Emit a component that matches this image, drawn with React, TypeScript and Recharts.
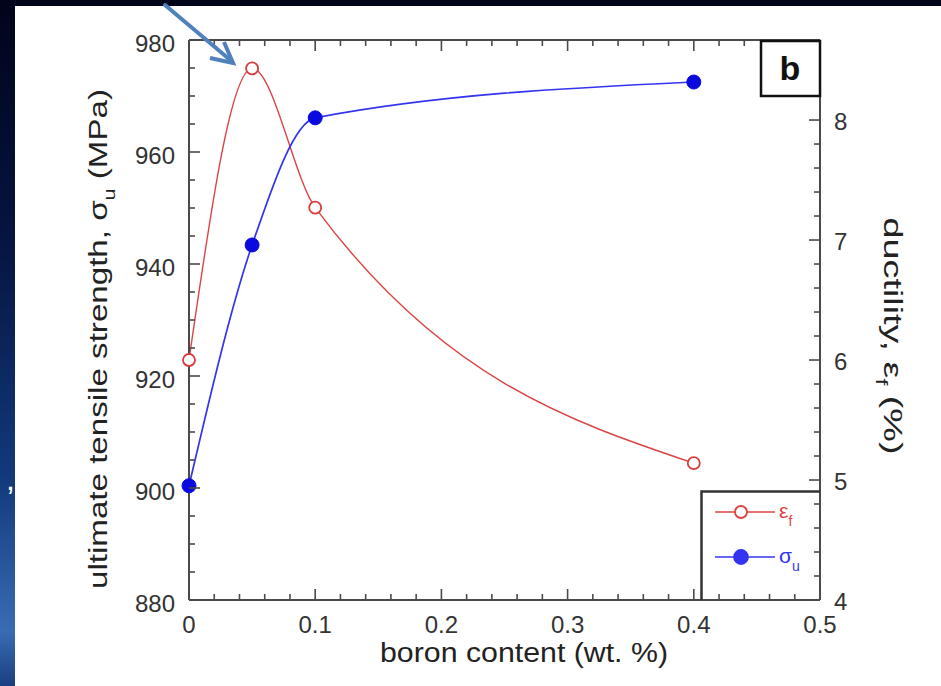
import React from "react";
import { LineChart, Line, XAxis, YAxis, Legend } from "recharts";

// boron content (wt. %)
const boron = [0, 0.05, 0.1, 0.4];
// ultimate tensile strength sigma_u (MPa), left axis
const strength = [900.4, 943.4, 966.1, 972.5];
// ductility epsilon_f (%), right axis
const ductility = [6.0, 8.43, 7.27, 5.14];

const xTicks = [0, 0.02, 0.04, 0.06, 0.08, 0.1, 0.12, 0.14, 0.16, 0.18, 0.2, 0.22, 0.24, 0.26, 0.28, 0.3, 0.32, 0.34, 0.36, 0.38, 0.4, 0.42, 0.44, 0.46, 0.48, 0.5];
const xLabels = ["0", "0.1", "0.2", "0.3", "0.4", "0.5"];
const leftTicks = [880, 885, 890, 895, 900, 905, 910, 915, 920, 925, 930, 935, 940, 945, 950, 955, 960, 965, 970, 975, 980];
const leftLabels = ["880", "900", "920", "940", "960", "980"];
const rightTicks = [4, 4.2, 4.4, 4.6, 4.8, 5, 5.2, 5.4, 5.6, 5.8, 6, 6.2, 6.4, 6.6, 6.8, 7, 7.2, 7.4, 7.6, 7.8, 8, 8.2, 8.4, 8.6];
const rightLabels = ["4", "5", "6", "7", "8"];

const data = boron.map((b, i) => ({ boron: b, strength: strength[i], ductility: ductility[i] }));

const font = "'Liberation Sans', Arial, sans-serif";
const axisColor = "#4a4a4a";
const labelColor = "#333";

const fmt = (v: number) => String(Math.round(v * 1000) / 1000);

const BottomTick = (p: any) => {
  const { x, y, payload } = p;
  const label = fmt(payload.value);
  const major = xLabels.includes(label);
  return (
    <g>
      <line x1={x} y1={y} x2={x} y2={y - (major ? 11 : 6)} stroke={axisColor} strokeWidth={1.6} />
      {major && (
        <text x={x} y={y + 33} textAnchor="middle" fontSize={24} fontFamily={font} fill={labelColor}>
          {label}
        </text>
      )}
    </g>
  );
};

const TopTick = (p: any) => {
  const { x, y, payload } = p;
  const major = xLabels.includes(fmt(payload.value));
  return <line x1={x} y1={y} x2={x} y2={y + (major ? 11 : 6)} stroke={axisColor} strokeWidth={1.6} />;
};

const LeftTick = (p: any) => {
  const { x, y, payload } = p;
  const label = fmt(payload.value);
  const major = leftLabels.includes(label);
  return (
    <g>
      <line x1={x} y1={y} x2={x + (major ? 11 : 6)} y2={y} stroke={axisColor} strokeWidth={1.6} />
      {major && (
        <text x={x - 14} y={y + 12} textAnchor="end" fontSize={24} fontFamily={font} fill={labelColor}>
          {label}
        </text>
      )}
    </g>
  );
};

const RightTick = (p: any) => {
  const { x, y, payload } = p;
  const label = fmt(payload.value);
  const major = rightLabels.includes(label);
  return (
    <g>
      <line x1={x} y1={y} x2={x - (major ? 11 : 6)} y2={y} stroke={axisColor} strokeWidth={1.6} />
      {major && (
        <text x={x + 14} y={y + 10} textAnchor="start" fontSize={24} fontFamily={font} fill={labelColor}>
          {label}
        </text>
      )}
    </g>
  );
};

const LegendBox = (props: any) => {
  const items = props.payload || [];
  return (
    <svg width={120} height={110} style={{ display: "block" }}>
      <polyline points="1.5,110 1.5,1.5 120,1.5" fill="none" stroke="#333" strokeWidth={2.5} />
      {items.map((it: any, i: number) => {
        const cy = 22 + i * 45;
        const filled = it.dataKey === "strength";
        return (
          <g key={it.value}>
            <line x1={15} x2={75} y1={cy} y2={cy} stroke={it.color} strokeWidth={1.5} />
            <circle cx={41} cy={cy} r={filled ? 7 : 6} fill={filled ? it.color : "#fff"} stroke={it.color} strokeWidth={1.8} />
            <text x={79} y={cy + 6} fontSize={21} fontFamily={font} fill={it.color}>
              {filled ? "σ" : "ε"}
              <tspan fontSize={14} dy={8}>{filled ? "u" : "f"}</tspan>
            </text>
          </g>
        );
      })}
    </svg>
  );
};

export default function App() {
  return (
    <div
      style={{
        position: "absolute",
        left: 0,
        top: 0,
        width: 941,
        height: 686,
        overflow: "hidden",
        background: "linear-gradient(to bottom, #01041a 0%, #061440 35%, #123a7c 70%, #3a6cb4 92%, #1a3f80 100%)",
      }}
    >
      <div style={{ position: "absolute", left: 15, top: 6, width: 926, height: 680, background: "#fff" }} />
      <LineChart
        width={941}
        height={686}
        data={data}
        margin={{ top: 0, right: 0, bottom: 0, left: 0 }}
        style={{ position: "absolute", left: 0, top: 0 }}
      >
        <XAxis
          xAxisId="bottom"
          dataKey="boron"
          type="number"
          domain={[0, 0.5]}
          ticks={xTicks}
          interval={0}
          height={86}
          axisLine={{ stroke: axisColor, strokeWidth: 2 }}
          tickLine={false}
          tickSize={0}
          tickMargin={0}
          tick={(p: any) => <BottomTick {...p} />}
        />
        <XAxis
          xAxisId="top"
          orientation="top"
          dataKey="boron"
          type="number"
          domain={[0, 0.5]}
          ticks={xTicks}
          interval={0}
          height={40}
          axisLine={{ stroke: axisColor, strokeWidth: 2 }}
          tickLine={false}
          tickSize={0}
          tickMargin={0}
          tick={(p: any) => <TopTick {...p} />}
        />
        <YAxis
          yAxisId="left"
          type="number"
          domain={[880, 980]}
          ticks={leftTicks}
          interval={0}
          width={189}
          axisLine={{ stroke: axisColor, strokeWidth: 2 }}
          tickLine={false}
          tickSize={0}
          tickMargin={0}
          tick={(p: any) => <LeftTick {...p} />}
        />
        <YAxis
          yAxisId="right"
          orientation="right"
          type="number"
          domain={[4, 8.667]}
          allowDataOverflow
          ticks={rightTicks}
          interval={0}
          width={121}
          axisLine={{ stroke: axisColor, strokeWidth: 2 }}
          tickLine={false}
          tickSize={0}
          tickMargin={0}
          tick={(p: any) => <RightTick {...p} />}
        />
        <Legend
          layout="vertical"
          align="center"
          verticalAlign="middle"
          content={(p: any) => <LegendBox {...p} />}
          wrapperStyle={{ position: "absolute", left: 700, top: 490, width: 120, height: 110 }}
        />
        <Line
          xAxisId="bottom"
          yAxisId="right"
          dataKey="ductility"
          name="εf"
          type="monotone"
          stroke="#dc4444"
          strokeWidth={1.4}
          dot={{ r: 6, fill: "#fff", stroke: "#d83c3c", strokeWidth: 1.8 }}
          activeDot={false}
          isAnimationActive={false}
        />
        <Line
          xAxisId="bottom"
          yAxisId="left"
          dataKey="strength"
          name="σu"
          type="monotone"
          stroke="#3434f0"
          strokeWidth={1.7}
          dot={{ r: 7, fill: "#0a0ade", stroke: "#0a0ade", strokeWidth: 1 }}
          activeDot={false}
          isAnimationActive={false}
        />
      </LineChart>
      <svg width={941} height={686} style={{ position: "absolute", left: 0, top: 0, pointerEvents: "none" }}>
        <text
          transform="translate(107,339) rotate(-90)"
          textAnchor="middle"
          fontSize={26}
          fontFamily={font}
          fill="#222"
          textLength={500}
          lengthAdjust="spacingAndGlyphs"
        >
          {"ultimate tensile strength,   σ"}
          <tspan fontSize={17} dy={8}>u</tspan>
          <tspan dy={-8}>{" (MPa)"}</tspan>
        </text>
        <text
          transform="translate(884,336) rotate(90)"
          textAnchor="middle"
          fontSize={26}
          fontFamily={font}
          fill="#222"
          textLength={237}
          lengthAdjust="spacingAndGlyphs"
        >
          {"ductility,  ε"}
          <tspan fontSize={17} dy={8}>f</tspan>
          <tspan dy={-8}>{" (%)"}</tspan>
        </text>
        <text
          x={524}
          y={662}
          textAnchor="middle"
          fontSize={27}
          fontFamily={font}
          fill="#222"
          textLength={288}
          lengthAdjust="spacingAndGlyphs"
        >
          boron content (wt. %)
        </text>
        <rect x={761} y={41} width={59} height={55} fill="#fff" stroke="#111" strokeWidth={2.5} />
        <text x={790} y={80} textAnchor="middle" fontSize={34} fontWeight="bold" fontFamily={font} fill="#111">
          b
        </text>
        <line x1={165} y1={5} x2={229} y2={59} stroke="#4f81bd" strokeWidth={4} strokeLinecap="round" />
        <polyline points="224,42 233,63 210,58" fill="none" stroke="#4f81bd" strokeWidth={4} strokeLinejoin="miter" />
        <text x={6} y={490} fontSize={32} fontFamily={font} fill="#fff">
          ,
        </text>
      </svg>
    </div>
  );
}
